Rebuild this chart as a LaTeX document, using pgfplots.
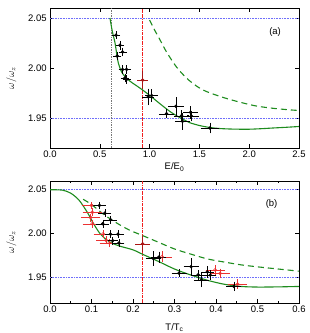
\documentclass[border=0pt]{standalone}
\usepackage{pgfplots}
\pgfplotsset{compat=1.18}
\usepackage{fontspec}
\setmainfont{Liberation Sans}
\definecolor{cgreen}{RGB}{30,140,30}
\definecolor{cblue}{RGB}{110,110,250}
\definecolor{cdred}{RGB}{170,20,20}
\definecolor{cred}{RGB}{235,50,50}
\definecolor{cgray}{RGB}{120,120,120}
\definecolor{vred}{RGB}{240,30,30}
\begin{document}
\fontsize{9.5}{11}\selectfont
\begin{tikzpicture}[x=1pt,y=1pt]
\useasboundingbox (0,0) rectangle (310,333);
\pgfplotsset{
  common/.style={
    scale only axis, width=249pt, anchor=south west,
    ymin=1.92, ymax=2.06,
    ytick={1.95,2.00,2.05}, yticklabels={1.95,2.00,2.05},
    tick align=inside, major tick length=4pt, minor tick length=2.2pt,
    tick style={black, line width=0.5pt},
    axis line style={line width=0.6pt},
    ticklabel style={font=\fontsize{9.5}{11}\selectfont},
    /pgf/number format/assume math mode=true,
    ylabel={$\omega/\omega_z$},
    ylabel style={at={(axis description cs:-0.155,0.5)}, anchor=center, font=\fontsize{10}{12}\selectfont},
    clip=true,
  },
  blk/.style={only marks, mark=*, mark size=1.5pt, black,
    error bars/.cd, x dir=both, x explicit, y dir=both, y explicit,
    error bar style={line width=0.4pt, black},
    error mark options={mark size=1.3pt, line width=0.4pt, black}},
  redo/.style={only marks, mark=o, mark size=1.6pt, cred, mark options={line width=0.5pt},
    error bars/.cd, x dir=both, x explicit, y dir=both, y explicit,
    error bar style={line width=0.4pt, cred},
    error mark options={mark size=1.3pt, line width=0.4pt, cred}},
  dred/.style={only marks, mark=*, mark size=1.5pt, cdred,
    error bars/.cd, x dir=both, x explicit, y dir=both, y explicit,
    error bar style={line width=0.4pt, cdred},
    error mark options={mark size=1.3pt, line width=0.4pt, cdred}},
}
% ---------- (a) ----------
\begin{axis}[common, at={(50pt,185pt)}, height=140pt,
  xmin=0, xmax=2.5, xtick={0,0.5,1,1.5,2,2.5},
  xticklabels={0.0,0.5,1.0,1.5,2.0,2.5},
  xlabel={E/E\textsubscript{0}},
  xlabel style={at={(axis description cs:0.5,0)}, anchor=center, yshift=-19pt, font=\fontsize{9.5}{11}\selectfont},
]
\addplot[cblue, densely dotted, line width=0.6pt] coordinates {(0,2.05) (2.5,2.05)};
\addplot[cblue, densely dotted, line width=0.6pt] coordinates {(0,1.95) (2.5,1.95)};
\addplot[cgray, densely dotted, line width=0.7pt] coordinates {(0.612,1.92) (0.612,2.06)};
\addplot[vred, densely dash dot, line width=0.5pt] coordinates {(0.926,1.92) (0.926,2.06)};
\addplot[cgreen, line width=1.1pt, smooth] coordinates {
(0.602,2.050) (0.625,2.037) (0.652,2.0255) (0.670,2.014) (0.685,2.0054) (0.710,1.998)
(0.735,1.9936) (0.770,1.990) (0.802,1.9869) (0.850,1.9835) (0.902,1.9800) (0.950,1.9765)
(1.003,1.9725) (1.070,1.967) (1.136,1.9617) (1.200,1.9568) (1.270,1.9523) (1.340,1.9485)
(1.404,1.9453) (1.500,1.9425) (1.605,1.9405) (1.700,1.9395) (1.805,1.9390) (1.900,1.9388)
(2.005,1.9388) (2.120,1.9393) (2.239,1.9400) (2.370,1.9407) (2.500,1.9415)};
\addplot[cgreen, line width=1.1pt, dash pattern=on 6pt off 4pt, smooth] coordinates {
(1.00,2.048) (1.05,2.038) (1.10,2.029) (1.17,2.016) (1.27,2.001) (1.37,1.990) (1.47,1.982)
(1.57,1.9765) (1.74,1.9705) (1.90,1.9660) (2.07,1.9620) (2.24,1.9597) (2.40,1.9582) (2.50,1.9575)};
\addplot[blk] table[x=x, y=y, x error=ex, y error=ey] {
x y ex ey
0.662 2.0329 0.028 0.0025
0.702 2.0228 0.028 0.003
0.729 2.0161 0.028 0.003
0.675 2.0120 0.028 0.003
0.729 1.9986 0.028 0.003
0.769 1.9986 0.028 0.003
0.752 1.9900 0.028 0.003
0.769 1.9886 0.028 0.003
0.986 1.9711 0.045 0.007
1.020 1.9725 0.050 0.005
1.170 1.9543 0.065 0.003
1.264 1.9617 0.065 0.008
1.321 1.9523 0.065 0.004
1.331 1.9466 0.065 0.007
1.411 1.9556 0.060 0.005
1.420 1.9520 0.060 0.004
1.605 1.9400 0.080 0.004
};
\addplot[dred] table[x=x, y=y, x error=ex, y error=ey] {
x y ex ey
0.930 1.9879 0.040 0.0075
};
\node at (axis cs:2.26,2.0356) {(a)};
\end{axis}
% ---------- (b) ----------
\begin{axis}[common, at={(50pt,30pt)}, height=122pt,
  xmin=0, xmax=0.6, xtick={0,0.1,0.2,0.3,0.4,0.5,0.6},
  xticklabels={0.0,0.1,0.2,0.3,0.4,0.5,0.6},
  minor xtick={0.05,0.15,0.25,0.35,0.45,0.55},
  xlabel={T/T\textsubscript{c}},
  xlabel style={at={(axis description cs:0.5,0)}, anchor=center, yshift=-25pt, font=\fontsize{9.5}{11}\selectfont},
]
\addplot[cblue, densely dotted, line width=0.6pt] coordinates {(0,2.05) (0.6,2.05)};
\addplot[cblue, densely dotted, line width=0.6pt] coordinates {(0,1.95) (0.6,1.95)};
\addplot[vred, densely dash dot, line width=0.6pt] coordinates {(0.2232,1.92) (0.2232,2.06)};
\addplot[cgreen, line width=1.1pt, smooth] coordinates {
(0,2.05) (0.03,2.0495) (0.05,2.046) (0.07,2.038) (0.09,2.024) (0.105,2.011) (0.12,2.000)
(0.135,1.993) (0.15,1.9885) (0.17,1.985) (0.2,1.981) (0.225,1.9755) (0.26,1.968) (0.3,1.959)
(0.34,1.952) (0.38,1.946) (0.42,1.9415) (0.46,1.939) (0.5,1.9383) (0.55,1.9385) (0.6,1.939)};
\addplot[cgreen, line width=1.1pt, dash pattern=on 6pt off 4pt, smooth] coordinates {
(0.08,2.039) (0.10,2.033) (0.13,2.0215) (0.16,2.012) (0.19,2.004) (0.22,1.998) (0.26,1.990)
(0.30,1.982) (0.34,1.976) (0.38,1.9705) (0.42,1.967) (0.46,1.9638) (0.50,1.9615) (0.55,1.9590) (0.60,1.9565)};
\addplot[redo] table[x=x, y=y, x error=ex, y error=ey] {
x y ex ey
0.100 2.0320 0.020 0.0025
0.102 2.0240 0.020 0.003
0.098 2.0180 0.020 0.003
0.102 2.0110 0.020 0.003
0.128 1.9993 0.020 0.003
0.135 1.9920 0.020 0.003
0.143 1.9890 0.020 0.003
0.270 1.9730 0.020 0.005
0.398 1.9580 0.020 0.004
0.410 1.9540 0.020 0.004
0.452 1.9416 0.020 0.004
};
\addplot[blk] table[x=x, y=y, x error=ex, y error=ey] {
x y ex ey
0.119 2.0320 0.012 0.0025
0.132 2.0230 0.012 0.003
0.146 2.0155 0.012 0.003
0.127 2.0110 0.012 0.003
0.146 1.9990 0.010 0.003
0.164 1.9990 0.010 0.003
0.151 1.9915 0.010 0.003
0.166 1.9888 0.010 0.003
0.249 1.9711 0.015 0.007
0.262 1.9725 0.015 0.005
0.311 1.9543 0.015 0.003
0.340 1.9617 0.015 0.008
0.357 1.9523 0.015 0.004
0.365 1.9466 0.015 0.007
0.379 1.9556 0.012 0.005
0.386 1.9520 0.012 0.004
0.443 1.9390 0.015 0.004
};
\addplot[dred] table[x=x, y=y, x error=ex, y error=ey] {
x y ex ey
0.2232 1.9879 0.015 0.0075
};
\node at (axis cs:0.534,2.034) {(b)};
\end{axis}
\end{tikzpicture}
\end{document}
